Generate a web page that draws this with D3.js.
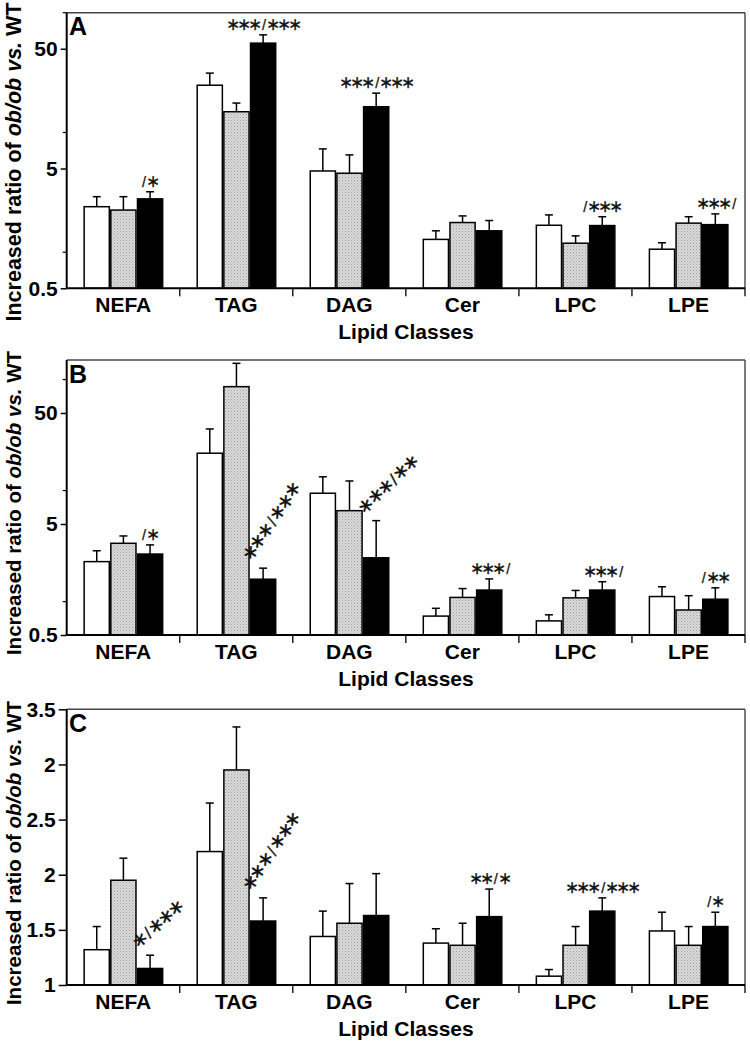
<!DOCTYPE html>
<html>
<head>
<meta charset="utf-8">
<script src="https://cdn.jsdelivr.net/npm/d3@7"></script>
<style>
  html, body { margin: 0; padding: 0; background: #fff; }
  svg { display: block; }
  text { font-family: "Liberation Sans", Arial, Helvetica, sans-serif; }
</style>
</head>
<body>
<svg id="chart" width="750" height="1045"></svg>
<script>
// ---------------- data ----------------
const categories = ["NEFA", "TAG", "DAG", "Cer", "LPC", "LPE"];

// Panel A (log scale)
const aWhite = [2.4, 24.8, 4.77, 1.28, 1.68, 1.06];
const aWhiteSE = [0.51, 6.5, 2.52, 0.23, 0.37, 0.14];
const aGrey = [2.25, 14.9, 4.57, 1.77, 1.19, 1.75];
const aGreySE = [0.66, 2.7, 1.93, 0.24, 0.18, 0.23];
const aBlack = [2.79, 55.7, 16.4, 1.51, 1.67, 1.70];
const aBlackSE = [0.41, 9.6, 4.9, 0.33, 0.31, 0.39];
const aMarks = ["/∗", "∗∗∗/∗∗∗", "∗∗∗/∗∗∗", "", "/∗∗∗", "∗∗∗/"];

// Panel B (log scale)
const bWhite = [2.29, 21.7, 9.46, 0.74, 0.67, 1.11];
const bWhiteSE = [0.58, 14.2, 3.84, 0.13, 0.09, 0.25];
const bGrey = [3.35, 86.3, 6.59, 1.09, 1.08, 0.84];
const bGreySE = [0.55, 53.7, 5.61, 0.22, 0.18, 0.29];
const bBlack = [2.68, 1.59, 2.48, 1.27, 1.27, 1.05];
const bBlackSE = [0.56, 0.41, 2.88, 0.33, 0.24, 0.28];
const bMarks = ["/∗", "∗∗∗/∗∗∗", "∗∗∗/∗∗", "∗∗∗/", "∗∗∗/", "/∗∗"];

// Panel C (linear scale)
const cWhite = [1.32, 2.21, 1.44, 1.38, 1.08, 1.49];
const cWhiteSE = [0.21, 0.44, 0.23, 0.13, 0.06, 0.17];
const cGrey = [1.95, 2.95, 1.56, 1.36, 1.36, 1.36];
const cGreySE = [0.20, 0.39, 0.36, 0.20, 0.17, 0.17];
const cBlack = [1.15, 1.58, 1.63, 1.62, 1.67, 1.53];
const cBlackSE = [0.12, 0.21, 0.38, 0.25, 0.12, 0.13];
const cMarks = ["∗/∗∗∗", "∗∗∗/∗∗∗", "", "∗∗/∗", "∗∗∗/∗∗∗", "/∗"];

// tick labels
const logTickValues = [0.5, 5, 50];
const logTickLabels = ["0.5", "5", "50"];
const logMinorTicks = [1, 10, 100];
const linTickValues = [1, 1.5, 2, 2.5, 3, 3.5];
const linTickLabels = ["1", "1.5", "2", "2.5", "2", "3.5"];

const panelLetters = ["A", "B", "C"];
const xTitle = "Lipid Classes";

// ---------------- drawing ----------------
const svg = d3.select("#chart");
const defs = svg.append("defs");
const pat = defs.append("pattern").attr("id", "stipple")
  .attr("patternUnits", "userSpaceOnUse").attr("width", 3).attr("height", 3);
pat.append("rect").attr("width", 3).attr("height", 3).attr("fill", "#dadada");
pat.append("rect").attr("x", 0).attr("y", 0).attr("width", 1).attr("height", 1).attr("fill", "#a0a0a0");
pat.append("rect").attr("x", 1.5).attr("y", 1.5).attr("width", 1).attr("height", 1).attr("fill", "#b0b0b0");

const left = 66.7, right = 745;
const x = d3.scaleBand().domain(categories).range([left, right]).paddingInner(0).paddingOuter(0);
const seriesKeys = ["white", "grey", "black"];
const fills = { white: "#ffffff", grey: "url(#stipple)", black: "#000000" };

const panels = [
  { letter: panelLetters[0], top: 12.7, bottom: 288.3, type: "log", domain: [0.5, 100],
    series: { white: [aWhite, aWhiteSE], grey: [aGrey, aGreySE], black: [aBlack, aBlackSE] },
    marks: aMarks, rot: [0, 0, 0, 0, 0, 0], titleCenter: 162, titleSize: 21.5 },
  { letter: panelLetters[1], top: 360, bottom: 635, type: "log", domain: [0.5, 150],
    series: { white: [bWhite, bWhiteSE], grey: [bGrey, bGreySE], black: [bBlack, bBlackSE] },
    marks: bMarks, rot: [0, -56, -43, 0, 0, 0], titleCenter: 503, titleSize: 20.5 },
  { letter: panelLetters[2], top: 709.3, bottom: 985, type: "lin", domain: [1, 3.5],
    series: { white: [cWhite, cWhiteSE], grey: [cGrey, cGreySE], black: [cBlack, cBlackSE] },
    marks: cMarks, rot: [-42, -56, 0, 0, 0, 0], titleCenter: 853, titleSize: 20.5 }
];

function fillMark(t, txt, starLS) {
  // asterisks packed tighter; the slash keeps its own spacing
  const runs = txt.match(/∗+|[^∗]+/g) || [];
  runs.forEach(r => {
    if (r[0] === "∗") {
      t.append("tspan").attr("letter-spacing", starLS).text(r.slice(0, -1));
      t.append("tspan").attr("letter-spacing", 0).text(r.slice(-1));
    } else {
      t.append("tspan").attr("letter-spacing", 0).attr("font-size", "0.85em").text(r);
    }
  });
}

panels.forEach(p => {
  const g = svg.append("g");
  const y = (p.type === "log" ? d3.scaleLog() : d3.scaleLinear())
    .domain(p.domain).range([p.bottom, p.top]);
  const inner = d3.scaleBand().domain(seriesKeys).range([16.7, 16.7 + 80]).padding(0);

  // frame top/right
  g.append("line").attr("x1", left).attr("x2", right).attr("y1", p.top).attr("y2", p.top)
    .attr("stroke", "#444").attr("stroke-width", 1.4);
  g.append("line").attr("x1", right).attr("x2", right).attr("y1", p.top).attr("y2", p.bottom)
    .attr("stroke", "#444").attr("stroke-width", 1.4);

  // bars
  seriesKeys.forEach(k => {
    const [vals, se] = p.series[k];
    const sg = g.append("g");
    sg.selectAll("line.err").data(categories).join("line")
      .attr("x1", (c) => x(c) + inner(k) + inner.bandwidth() / 2)
      .attr("x2", (c) => x(c) + inner(k) + inner.bandwidth() / 2)
      .attr("y1", (c, i) => y(vals[i]))
      .attr("y2", (c, i) => y(vals[i] + se[i]))
      .attr("stroke", "#000").attr("stroke-width", 1.5);
    sg.selectAll("line.cap").data(categories).join("line")
      .attr("x1", (c) => x(c) + inner(k) + inner.bandwidth() / 2 - 4)
      .attr("x2", (c) => x(c) + inner(k) + inner.bandwidth() / 2 + 4)
      .attr("y1", (c, i) => y(vals[i] + se[i]))
      .attr("y2", (c, i) => y(vals[i] + se[i]))
      .attr("stroke", "#000").attr("stroke-width", 1.5);
    sg.selectAll("rect").data(categories).join("rect")
      .attr("x", c => x(c) + inner(k) + 0.75)
      .attr("width", inner.bandwidth() - 1.5)
      .attr("y", (c, i) => y(vals[i]))
      .attr("height", (c, i) => p.bottom - y(vals[i]))
      .attr("fill", fills[k]).attr("stroke", "#000").attr("stroke-width", 1.5);
  });

  // significance marks
  const [bv, bse] = p.series.black;
  categories.forEach((c, i) => {
    const txt = p.marks[i];
    if (!txt) return;
    const errY = y(bv[i] + bse[i]);
    const cx = x(c) + inner("black") + inner.bandwidth() / 2;
    const t = g.append("text")
      .attr("font-family", "DejaVu Sans").attr("fill", "#111")
      .attr("stroke", "#111").attr("stroke-width", 0.25);
    if (p.rot[i] === 0) {
      t.attr("font-size", 17).attr("x", cx + 1).attr("y", errY - 5).attr("text-anchor", "middle");
      fillMark(t, txt, -3);
    } else {
      const sx = x(c) + inner("black") + 1, sy = errY - 5;
      t.attr("font-size", 20).attr("text-anchor", "start")
        .attr("transform", `translate(${sx},${sy}) rotate(${p.rot[i]})`);
      fillMark(t, txt, -3.5);
    }
  });

  // y axis
  if (p.type === "log") {
    const ax = d3.axisLeft(y).tickValues(logTickValues).tickFormat((d, i) => logTickLabels[i])
      .tickSize(6).tickPadding(3);
    const ag = g.append("g").attr("transform", `translate(${left},0)`).call(ax);
    ag.select(".domain").remove();
    ag.selectAll(".tick line").attr("stroke-width", 1.5);
    ag.selectAll(".tick text").attr("font-size", 21).attr("font-weight", "bold")
      .attr("font-family", "Liberation Sans, Arial, sans-serif").attr("fill", "#000");
    g.selectAll("line.minor").data(logMinorTicks.filter(v => v <= p.domain[1])).join("line")
      .attr("x1", left - 4).attr("x2", left).attr("y1", d => y(d)).attr("y2", d => y(d))
      .attr("stroke", "#000").attr("stroke-width", 1.2);
  } else {
    const ax = d3.axisLeft(y).tickValues(linTickValues).tickFormat((d, i) => linTickLabels[i])
      .tickSize(8).tickPadding(3);
    const ag = g.append("g").attr("transform", `translate(${left},0)`).call(ax);
    ag.select(".domain").remove();
    ag.selectAll(".tick line").attr("stroke-width", 1.5);
    ag.selectAll(".tick text").attr("font-size", 21).attr("font-weight", "bold")
      .attr("font-family", "Liberation Sans, Arial, sans-serif").attr("fill", "#000");
  }
  g.append("line").attr("x1", left).attr("x2", left).attr("y1", p.top).attr("y2", p.bottom)
    .attr("stroke", "#000").attr("stroke-width", 2);

  // x axis
  const xa = d3.axisBottom(x).tickSize(0).tickPadding(9);
  const xg = g.append("g").attr("transform", `translate(0,${p.bottom})`).call(xa);
  xg.select(".domain").remove();
  xg.selectAll(".tick text").attr("font-size", 21).attr("font-weight", "bold")
    .attr("font-family", "Liberation Sans, Arial, sans-serif").attr("fill", "#000")
    .attr("dy", "0.71em");
  g.selectAll("line.xsep").data(categories.slice(1).concat(["__end"])).join("line")
    .attr("x1", d => d === "__end" ? right : x(d)).attr("x2", d => d === "__end" ? right : x(d))
    .attr("y1", p.bottom).attr("y2", p.bottom + 8)
    .attr("stroke", "#000").attr("stroke-width", 1.3);
  g.append("line").attr("x1", left).attr("x2", right).attr("y1", p.bottom).attr("y2", p.bottom)
    .attr("stroke", "#000").attr("stroke-width", 2);

  // x title
  g.append("text").attr("x", 406).attr("y", p.bottom + 51).attr("text-anchor", "middle")
    .attr("font-size", 21).attr("font-weight", "bold").text(xTitle);

  // panel letter
  g.append("text").attr("x", 69).attr("y", p.top + 22.5).attr("font-size", 25)
    .attr("font-weight", "bold").text(p.letter);

  // y title
  const yt = g.append("text").attr("transform", `translate(21,${p.titleCenter}) rotate(-90)`)
    .attr("text-anchor", "middle").attr("font-size", p.titleSize).attr("font-weight", "bold");
  yt.append("tspan").text("Increased ratio of ");
  yt.append("tspan").attr("font-style", "italic").text("ob/ob vs.");
  yt.append("tspan").text(" WT");
});
</script>
</body>
</html>
